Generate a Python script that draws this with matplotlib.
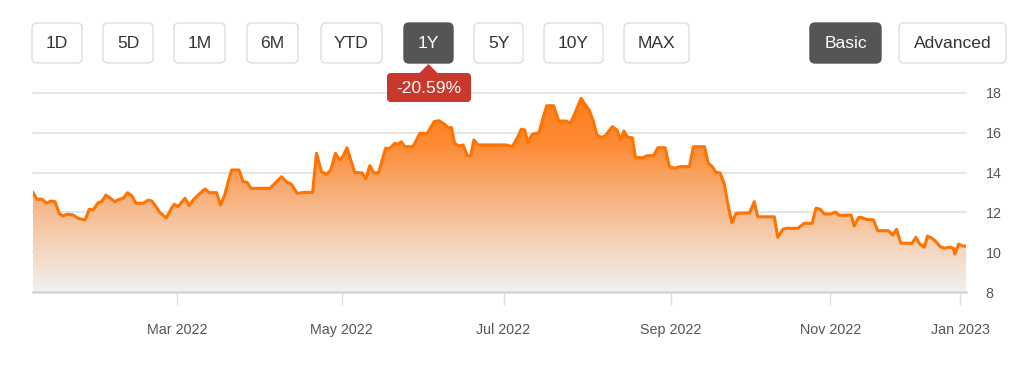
import numpy as np
import matplotlib.pyplot as plt
from matplotlib.colors import LinearSegmentedColormap
from matplotlib.patches import FancyBboxPatch, Polygon

plt.rcParams["font.family"] = ["Liberation Sans", "DejaVu Sans"]

# trading sessions counted from the first point of the 1Y window
session = [
    0, 1.0, 2.3, 3.5, 4.6, 5.7, 6.8, 7.7, 8.7, 10.3, 11.7, 13.5, 14.6, 15.6,
    16.9, 17.8, 18.9, 19.9, 21.2, 22.4, 23.4, 24.5, 25.6, 26.7, 28.6, 29.9,
    30.8, 31.9, 32.9, 34.6, 35.9, 36.6, 37.6, 39.4, 40.5, 41.5, 43.3, 44.6,
    45.7, 47.6, 48.6, 49.7, 50.6, 51.5, 53.4, 54.5, 55.5, 56.5, 61.4, 62.3,
    64.4, 65.7, 67.0, 68.5, 70.5, 72.5, 73.5, 74.8, 76.1, 77.2, 78.4, 79.5,
    80.4, 81.4, 83.4, 85.3, 86.3, 87.3, 88.4, 89.6, 91.4, 92.5, 93.8, 94.6,
    95.5, 96.4, 98.5, 100.3, 102.2, 104.0, 105.2, 106.7, 107.6, 108.5, 109.3,
    110.4, 111.5, 112.6, 113.5, 114.3, 115.4, 122.7, 124.3, 125.7, 126.6,
    127.5, 128.3, 129.4, 131.2, 132.2, 133.2, 135.0, 136.3, 138.3, 139.3,
    140.4, 142.1, 144.3, 145.3, 146.2, 147.3, 148.4, 150.2, 151.4, 152.3,
    153.2, 154.2, 155.4, 156.2, 158.1, 159.3, 160.9, 162.0, 163.9, 165.0,
    166.3, 167.8, 170.2, 171.2, 174.1, 175.1, 176.1, 177.1, 178.1, 179.2,
    180.1, 181.2, 182.3, 185.8, 187.0, 187.9, 192.2, 193.1, 194.4, 195.3,
    198.3, 200.0, 202.0, 203.0, 204.1, 205.2, 206.9, 208.0, 209.1, 212.1,
    212.9, 214.1, 215.1, 216.0, 217.9, 219.0, 221.8, 222.9, 223.9, 225.0,
    227.9, 228.9, 229.9, 231.1, 231.9, 233.1, 234.1, 235.2, 236.3, 237.6,
    238.6, 239.0, 240.0, 241.0, 241.9,
]
price = [
    12.99, 12.66, 12.67, 12.46, 12.57, 12.54, 11.95, 11.82, 11.90, 11.88,
    11.70, 11.62, 12.16, 12.12, 12.49, 12.54, 12.87, 12.74, 12.54, 12.66,
    12.71, 12.99, 12.84, 12.46, 12.46, 12.62, 12.57, 12.29, 11.98, 11.73,
    12.21, 12.41, 12.29, 12.71, 12.34, 12.62, 12.96, 13.18, 12.99, 12.99,
    12.37, 12.87, 13.54, 14.13, 14.13, 13.54, 13.51, 13.21, 13.21, 13.38,
    13.79, 13.54, 13.41, 12.96, 13.01, 13.01, 14.97, 14.05, 13.91, 14.13,
    14.97, 14.63, 14.83, 15.25, 14.01, 13.99, 13.68, 14.35, 13.99, 13.99,
    15.22, 15.22, 15.47, 15.42, 15.55, 15.30, 15.30, 15.97, 15.97, 16.56,
    16.61, 16.43, 16.26, 16.26, 15.47, 15.34, 15.39, 14.85, 14.85, 15.64,
    15.39, 15.39, 15.30, 15.80, 16.18, 16.14, 15.50, 15.92, 16.01, 16.73,
    17.36, 17.36, 16.59, 16.59, 16.48, 16.93, 17.73, 17.10, 16.56, 15.89,
    15.77, 15.85, 16.31, 16.14, 15.64, 16.09, 15.77, 15.75, 14.75, 14.75,
    14.85, 14.85, 15.25, 15.25, 14.30, 14.22, 14.30, 14.30, 15.30, 15.30,
    14.47, 14.30, 14.01, 13.99, 13.46, 12.46, 11.48, 11.95, 11.98, 12.54,
    11.78, 11.78, 10.75, 11.15, 11.20, 11.20, 11.45, 11.45, 12.21, 12.16,
    11.92, 11.92, 12.02, 11.85, 11.87, 11.32, 11.75, 11.73, 11.65, 11.62,
    11.08, 11.08, 10.86, 11.15, 10.45, 10.45, 10.75, 10.41, 10.25, 10.81,
    10.70, 10.53, 10.28, 10.20, 10.25, 10.20, 9.91, 10.41, 10.31, 10.31,
]

month_ticks = [37.3, 80.0, 122.0, 165.3, 206.7, 240.4]
month_labels = ["Mar 2022", "May 2022", "Jul 2022", "Sep 2022", "Nov 2022", "Jan 2023"]
price_ticks = [8, 10, 12, 14, 16, 18]

range_buttons = ["1D", "5D", "1M", "6M", "YTD", "1Y", "5Y", "10Y", "MAX"]
mode_buttons = ["Basic", "Advanced"]
active_buttons = {"1Y", "Basic"}
change_label = "-20.59%"

W, H = 1035, 369
fig = plt.figure(figsize=(W / 100, H / 100), dpi=100)
ax = fig.add_axes([33 / W, 77 / H, 933 / W, 199 / H])

# gradient area under the line
cmap = LinearSegmentedColormap.from_list(
    "fade", ["#f1f0f0", "#f5d2b7", "#f8ae78", "#fd8a32", "#ff7d1c"]
)
grad = np.linspace(0, 1, 256).reshape(-1, 1)
img = ax.imshow(grad, extent=[session[0], session[-1], 8, 18], origin="lower",
                cmap=cmap, aspect="auto", zorder=1, interpolation="bicubic")
area = ax.fill_between(session, price, 8, facecolor="none", edgecolor="none")
img.set_clip_path(area.get_paths()[0], transform=ax.transData)

ax.plot(session, price, color="#ff7300", lw=2.2, zorder=3,
        solid_joinstyle="round")

ax.set_xlim(session[0], session[-1])
ax.set_ylim(8, 18)

# grid
for v in price_ticks[1:]:
    ax.axhline(v, color="#e2e2e2", lw=1.2, zorder=0, clip_on=False)
ax.axhline(8, color="#d6d6d6", lw=1.8, zorder=4, clip_on=False)

for s in ax.spines.values():
    s.set_visible(False)

ax.yaxis.tick_right()
ax.set_yticks(price_ticks)
ax.tick_params(axis="y", length=0, pad=14, labelsize=10.3, labelcolor="#555555")
ax.set_xticks(month_ticks)
ax.set_xticklabels(month_labels)
ax.tick_params(axis="x", length=9.5, width=1, color="#dddddd", pad=13,
               labelsize=10.3, labelcolor="#555555")

# button bar and change badge
ui = fig.add_axes([0, 0, 1, 1], zorder=5)
ui.set_xlim(0, W)
ui.set_ylim(H, 0)
ui.axis("off")
ui.patch.set_alpha(0)

range_spans = [(32, 82), (103, 153), (174, 225), (247, 298), (321, 382),
               (404, 453), (474, 523), (544, 603), (624, 689)]
mode_spans = [(810, 881), (899, 1006)]

for label, (x0, x1) in zip(range_buttons + mode_buttons, range_spans + mode_spans):
    on = label in active_buttons
    ui.add_patch(FancyBboxPatch(
        (x0, 23), x1 - x0, 40, boxstyle="round,pad=0,rounding_size=5",
        facecolor="#555555" if on else "white",
        edgecolor="#555555" if on else "#dddddd", lw=1))
    ui.text((x0 + x1) / 2, 43.5, label, ha="center", va="center",
            fontsize=12.6, color="white" if on else "#333333")

badge_red = "#c9382c"
ui.add_patch(Polygon([(419, 73.5), (428.5, 64), (438, 73.5)], closed=True,
                     facecolor=badge_red, edgecolor="none"))
ui.add_patch(FancyBboxPatch((387, 73), 84, 29, boxstyle="round,pad=0,rounding_size=4",
                            facecolor=badge_red, edgecolor="none"))
ui.text(429, 88.5, change_label, ha="center", va="center", fontsize=12.6,
        color="white")

fig.savefig("out.png", dpi=100)
